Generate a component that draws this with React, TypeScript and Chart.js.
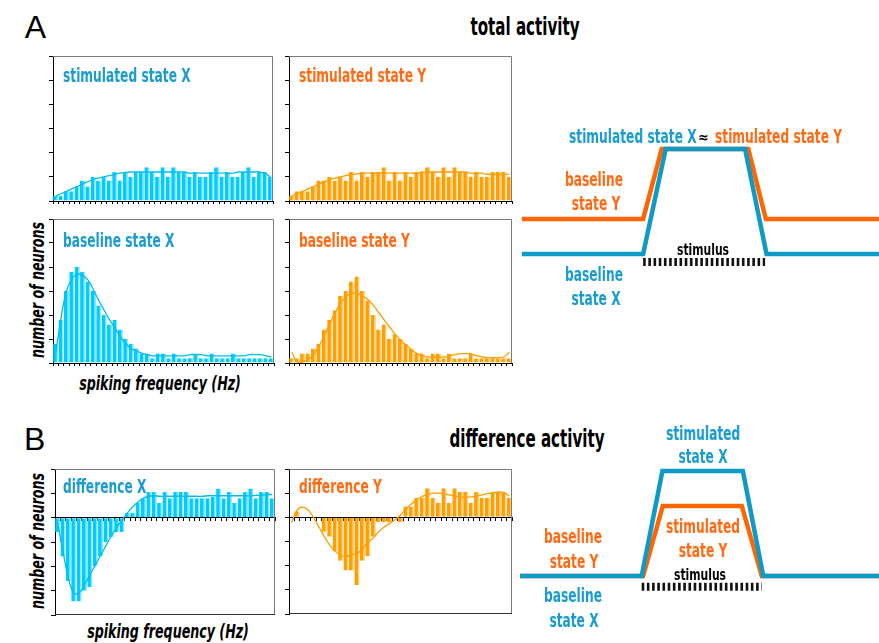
import React, { useEffect, useRef } from "react";
import { Chart, registerables } from "chart.js";

Chart.register(...registerables);

// ---------- data ----------
const bins = ["1","2","3","4","5","6","7","8","9","10","11","12","13","14","15","16","17","18","19","20","21","22","23","24","25","26","27","28","29","30","31","32","33","34","35","36","37","38","39","40","41"];

const stimXBars = [0.22,0.22,0.4,0.4,0.6,0.85,0.6,1.0,0.85,1.0, 0.85,1.2,0.85,1.2,1.0,1.2,1.2,1.4,1.2,1.0, 1.4,1.0,1.4,1.2,1.2,1.0,1.2,1.0,1.0,1.2, 1.4,1.0,1.2,1.0,1.0,1.2,1.4,1.0,1.2,1.2,1.0];
const stimXFit = [0.2,0.3,0.4,0.5,0.6,0.7,0.8,0.9,0.95,1.0, 1.05,1.1,1.15,1.18,1.2,1.2,1.2,1.2,1.2,1.2, 1.2,1.2,1.2,1.2,1.2,1.15,1.15,1.15,1.15,1.15, 1.15,1.15,1.15,1.15,1.2,1.2,1.2,1.2,1.2,1.15,1.0];

const stimYBars = [0.22,0.4,0.4,0.4,0.6,0.85,0.85,1.0,0.85,1.0, 0.85,1.2,0.85,1.2,1.0,1.2,1.2,1.4,0.85,1.2, 0.85,1.2,1.0,1.2,1.2,1.4,1.2,1.0,1.4,1.0, 1.4,1.2,1.2,1.0,1.2,1.0,1.0,1.2,1.2,1.2,1.0];
const stimYFit = [0.2,0.3,0.4,0.5,0.6,0.7,0.8,0.88,0.95,1.0, 1.05,1.1,1.12,1.15,1.15,1.15,1.15,1.15,1.15,1.15, 1.15,1.15,1.15,1.15,1.2,1.2,1.2,1.2,1.2,1.2, 1.2,1.2,1.2,1.15,1.15,1.15,1.1,1.1,1.1,1.1,1.1];

const baseXBars = [0.8,1.8,3.0,3.8,4.0,3.8,3.4,3.0,2.4,2.0, 1.6,1.8,1.4,1.0,0.8,0.6,0.4,0.4,0.2,0.4, 0.4,0.2,0.4,0.2,0.2,0.2,0.4,0.2,0.2,0.4, 0.2,0.2,0.2,0.4,0.2,0.2,0.2,0.2,0.2,0.2,0.2];
const baseXFit = [0.4,1.9,3.0,3.5,3.7,3.65,3.45,3.05,2.6,2.2, 1.8,1.45,1.1,0.8,0.6,0.5,0.4,0.35,0.3,0.3, 0.3,0.3,0.3,0.3,0.3,0.35,0.35,0.35,0.3,0.3, 0.3,0.3,0.3,0.3,0.3,0.3,0.35,0.35,0.35,0.3,0.25];

const baseYBars = [0.2,0.2,0.4,0.4,0.6,0.8,1.4,1.8,2.2,2.8, 3.0,3.4,3.6,3.0,2.6,2.0,1.4,1.6,1.0,1.2, 1.0,0.8,0.6,0.4,0.4,0.2,0.4,0.4,0.2,0.4, 0.2,0.2,0.2,0.4,0.2,0.2,0.2,0.2,0.2,0.2,0.2];
const baseYFit = [0.45,0.05,0.05,0.15,0.35,0.7,1.15,1.65,2.1,2.5, 2.75,2.9,2.9,2.8,2.65,2.4,2.1,1.8,1.5,1.2, 0.95,0.75,0.55,0.4,0.3,0.25,0.25,0.25,0.25,0.3, 0.35,0.38,0.4,0.38,0.3,0.25,0.22,0.22,0.22,0.25,0.45];

const diffXBars = [-0.6,-1.6,-2.6,-3.45,-3.45,-3.0,-2.85,-2.0,-1.6,-1.0, -0.8,-0.6,-0.6,0.2,0.2,0.6,0.8,1.05,1.05,0.6, 1.05,0.8,1.05,1.05,1.05,0.8,0.8,0.8,0.8,0.85, 1.2,0.8,1.05,0.6,0.8,1.05,1.2,0.8,1.05,1.05,0.8];
const diffXFit = [-0.25,-1.4,-2.5,-3.1,-3.1,-2.75,-2.35,-1.95,-1.55,-1.15, -0.75,-0.4,-0.1,0.2,0.45,0.65,0.8,0.88,0.9,0.88, 0.88,0.88,0.88,0.88,0.88,0.88,0.88,0.88,0.9,0.9, 0.9,0.9,0.9,0.9,0.9,0.9,0.9,0.92,0.92,0.95,0.95];

const diffYBars = [0,0.25,0,0,0,0,-0.6,-0.8,-1.4,-1.8, -2.2,-2.2,-2.8,-1.8,-1.6,-0.8,-0.2,-0.2,-0.2,0, -0.2,0.45,0.45,0.8,0.8,1.2,0.8,0.6,1.2,0.6, 1.2,1.05,1.05,0.6,1.05,0.8,0.8,1.05,1.05,1.05,0.8];
const diffYFit = [-0.2,0.3,0.42,0.3,0.0,-0.4,-0.8,-1.15,-1.4,-1.58, -1.62,-1.55,-1.5,-1.3,-1.05,-0.85,-0.6,-0.4,-0.25,-0.1, 0.1,0.35,0.55,0.75,0.87,0.95,1.0,1.0,0.97,0.93, 0.88,0.85,0.84,0.85,0.88,0.93,0.98,1.02,1.05,1.02,0.88];

// schematic time courses (x: time 0..100, y: activity level)
const schemATimeBlue = [1.9, 35.2, 41.4, 63.2, 69.1, 100];
const schemALevelBlue = [0, 0, 3, 3, 0, 0];
const schemATimeOrange = [1.9, 35.2, 40.3, 64.1, 68.9, 100];
const schemALevelOrange = [1, 1, 3, 3, 1, 1];
const schemATimeStim = [35.2, 68.7];
const schemALevelStim = [-0.23, -0.23];

const schemBTimeBlue = [1.4, 34.8, 40.5, 62.6, 68.2, 100];
const schemBLevelBlue = [0, 0, 3, 3, 0, 0];
const schemBTimeOrange = [1.4, 35.2, 40.6, 62.3, 67.8, 100];
const schemBLevelOrange = [0, 0, 2, 2, 0, 0];
const schemBTimeStim = [34.8, 67.8];
const schemBLevelStim = [-0.31, -0.31];

// ---------- styles ----------
const BAR_BLUE = "#00CCFF";
const EDGE_BLUE = "#8FE6FF";
const LINE_BLUE = "#00BDEE";
const BAR_ORANGE = "#FFA000";
const EDGE_ORANGE = "#FFD28A";
const LINE_ORANGE = "#FF9C00";
const TXT_BLUE = "#1A9CCF";
const TXT_ORANGE = "#FF6A13";
const SCH_BLUE = "#0E9AC8";
const SCH_ORANGE = "#FF6600";
const NARROW = '"DejaVu Sans Condensed", "DejaVu Sans", sans-serif';

type Box = { l: number; t: number; r: number; b: number };

function Hist(props: {
  box: Box; bars: number[]; fit: number[]; min: number; max: number;
  barColor: string; edgeColor: string; lineColor: string; zeroAxis?: boolean;
}) {
  const ref = useRef<HTMLCanvasElement>(null);
  const { box } = props;
  const W = box.r - box.l + 7;
  const H = box.b - box.t + 6;
  useEffect(() => {
    const zero = !!props.zeroAxis;
    const frame = {
      id: "frame",
      afterDraw(chart: any) {
        const { ctx, chartArea } = chart;
        const { left, right, top, bottom } = chartArea;
        ctx.save();
        ctx.lineWidth = 1;
        ctx.strokeStyle = "#7a7a7a";
        ctx.beginPath();
        ctx.moveTo(left, top + 0.5);
        ctx.lineTo(right - 0.5, top + 0.5);
        ctx.lineTo(right - 0.5, bottom);
        ctx.stroke();
        if (zero) {
          ctx.strokeStyle = "#333";
          ctx.beginPath();
          ctx.moveTo(left, bottom - 0.5);
          ctx.lineTo(right, bottom - 0.5);
          ctx.stroke();
        }
        ctx.restore();
      },
    };
    const chart = new Chart(ref.current!, {
      type: "bar",
      data: {
        labels: bins,
        datasets: [
          {
            type: "line",
            data: props.fit,
            borderColor: props.lineColor,
            borderWidth: 1.3,
            pointRadius: 0,
            tension: 0.4,
            fill: false,
            order: 0,
          } as any,
          {
            type: "bar",
            data: props.bars,
            backgroundColor: props.barColor,
            borderColor: props.edgeColor,
            borderWidth: { left: 0, right: 1.5, top: 0, bottom: 0 },
            borderSkipped: false,
            barPercentage: 0.95,
            categoryPercentage: 1,
            order: 1,
          } as any,
        ],
      },
      options: {
        animation: false,
        responsive: false,
        maintainAspectRatio: false,
        events: [],
        layout: { padding: { left: 1, top: 2, right: 2, bottom: zero ? 4 : 1 } },
        plugins: { legend: { display: false }, tooltip: { enabled: false }, title: { display: false } },
        scales: {
          x: {
            type: "category",
            offset: true,
            position: zero ? ({ y: 0 } as any) : "bottom",
            ticks: { display: false },
            grid: { display: true, drawOnChartArea: false, drawTicks: true, tickLength: 3, color: "#000", offset: true },
            border: { display: true, color: "#000", width: 1 },
          },
          y: {
            type: "linear",
            min: props.min,
            max: props.max,
            position: "left",
            ticks: { display: false, stepSize: 1 },
            grid: { display: true, drawOnChartArea: false, drawTicks: true, tickLength: 4, color: "#000" },
            border: { display: true, color: "#000", width: 1 },
          },
        },
      },
      plugins: [frame],
    });
    return () => chart.destroy();
  }, []);
  return (
    <canvas
      ref={ref}
      width={W}
      height={H}
      style={{ position: "absolute", left: box.l - 5, top: box.t - 2, width: W, height: H }}
    />
  );
}

function Schematic(props: {
  top: number; blueT: number[]; blueL: number[]; orangeT: number[]; orangeL: number[]; stimT: number[]; stimL: number[];
}) {
  const ref = useRef<HTMLCanvasElement>(null);
  useEffect(() => {
    const pts = (t: number[], l: number[]) => t.map((x, i) => ({ x, y: l[i] }));
    const chart = new Chart(ref.current!, {
      type: "line",
      data: {
        datasets: [
          { data: pts(props.blueT, props.blueL), borderColor: SCH_BLUE, borderWidth: 4.5, pointRadius: 0, tension: 0, clip: false } as any,
          { data: pts(props.orangeT, props.orangeL), borderColor: SCH_ORANGE, borderWidth: 4.5, pointRadius: 0, tension: 0, clip: false } as any,
          { data: pts(props.stimT, props.stimL), borderColor: "#111", borderWidth: 8, borderDash: [2.6, 2.6], borderCapStyle: "butt", pointRadius: 0, clip: false } as any,
        ],
      },
      options: {
        animation: false,
        responsive: false,
        maintainAspectRatio: false,
        events: [],
        layout: { padding: 0 },
        plugins: { legend: { display: false }, tooltip: { enabled: false } },
        scales: {
          x: { type: "linear", min: 0, max: 100, display: false },
          y: { type: "linear", min: -0.6, max: 3.4, display: false },
        },
      },
    });
    return () => chart.destroy();
  }, []);
  return (
    <canvas ref={ref} width={364} height={140}
      style={{ position: "absolute", left: 515, top: props.top, width: 364, height: 140 }} />
  );
}

function T(props: {
  text: string; x: number; y: number; color?: string; size?: number; align?: "center" | "left";
  italic?: boolean; rotate?: boolean; family?: string; weight?: string | number; sx?: number;
}) {
  const align = props.align || "center";
  const sx = props.sx ?? 1;
  let transform: string;
  let origin = "50% 50%";
  if (props.rotate) transform = `translate(-50%, -50%) rotate(-90deg) scaleX(${sx})`;
  else if (align === "center") transform = `translate(-50%, -50%) scaleX(${sx})`;
  else {
    transform = `translate(0, -50%) scaleX(${sx})`;
    origin = "0% 50%";
  }
  return (
    <div
      style={{
        position: "absolute",
        left: props.x,
        top: props.y,
        transform,
        transformOrigin: origin,
        whiteSpace: "nowrap",
        lineHeight: 1,
        fontFamily: props.family || NARROW,
        fontWeight: props.weight ?? "bold",
        fontStyle: props.italic ? "italic" : "normal",
        fontSize: props.size || 20,
        color: props.color || "#000",
      }}
    >
      {props.text}
    </div>
  );
}

const LS = 0.68; // horizontal squeeze for coloured labels
const AX = 0.74; // axis titles
const TS = 0.70; // headings

export default function App() {
  return (
    <div style={{ position: "fixed", left: 0, top: 0, width: 879, height: 643, background: "#fff", overflow: "hidden" }}>
      <Hist box={{ l: 53, t: 56, r: 273, b: 201 }} bars={stimXBars} fit={stimXFit} min={0} max={6}
        barColor={BAR_BLUE} edgeColor={EDGE_BLUE} lineColor={LINE_BLUE} />
      <Hist box={{ l: 289, t: 56, r: 512, b: 201 }} bars={stimYBars} fit={stimYFit} min={0} max={6}
        barColor={BAR_ORANGE} edgeColor={EDGE_ORANGE} lineColor={LINE_ORANGE} />
      <Hist box={{ l: 53, t: 219, r: 274, b: 363 }} bars={baseXBars} fit={baseXFit} min={0} max={6}
        barColor={BAR_BLUE} edgeColor={EDGE_BLUE} lineColor={LINE_BLUE} />
      <Hist box={{ l: 289, t: 219, r: 512, b: 363 }} bars={baseYBars} fit={baseYFit} min={0} max={6}
        barColor={BAR_ORANGE} edgeColor={EDGE_ORANGE} lineColor={LINE_ORANGE} />
      <Hist box={{ l: 55, t: 469, r: 275, b: 615 }} bars={diffXBars} fit={diffXFit} min={-4} max={2} zeroAxis
        barColor={BAR_BLUE} edgeColor={EDGE_BLUE} lineColor={LINE_BLUE} />
      <Hist box={{ l: 289, t: 469, r: 512, b: 614 }} bars={diffYBars} fit={diffYFit} min={-4} max={2} zeroAxis
        barColor={BAR_ORANGE} edgeColor={EDGE_ORANGE} lineColor={LINE_ORANGE} />

      <Schematic top={135} blueT={schemATimeBlue} blueL={schemALevelBlue} orangeT={schemATimeOrange}
        orangeL={schemALevelOrange} stimT={schemATimeStim} stimL={schemALevelStim} />
      <Schematic top={457} blueT={schemBTimeBlue} blueL={schemBLevelBlue} orangeT={schemBTimeOrange}
        orangeL={schemBLevelOrange} stimT={schemBTimeStim} stimL={schemBLevelStim} />

      {/* headings */}
      <T text="A" x={35.5} y={27} size={32} weight="normal" family='"Liberation Sans", Arial, sans-serif' />
      <T text="B" x={34.7} y={438.5} size={32} weight="normal" family='"Liberation Sans", Arial, sans-serif' />
      <T text="total activity" x={524.5} y={26.7} size={24} sx={TS} />
      <T text="difference activity" x={526.5} y={438.7} size={24} sx={TS} />

      {/* panel labels */}
      <T text="stimulated state X" x={63} y={75.1} align="left" color={TXT_BLUE} sx={LS} />
      <T text="stimulated state Y" x={299} y={74.8} align="left" color={TXT_ORANGE} sx={LS} />
      <T text="baseline state X" x={63} y={239.8} align="left" color={TXT_BLUE} sx={LS} />
      <T text="baseline state Y" x={299} y={239.8} align="left" color={TXT_ORANGE} sx={LS} />
      <T text="difference X" x={63} y={486.4} align="left" color={TXT_BLUE} sx={LS} />
      <T text="difference Y" x={299} y={486.3} align="left" color={TXT_ORANGE} sx={LS} />

      {/* axis titles */}
      <T text="number of neurons" x={37} y={290} rotate italic size={19} sx={AX} />
      <T text="number of neurons" x={37} y={540.5} rotate italic size={19} sx={AX} />
      <T text="spiking frequency (Hz)" x={160} y={383} italic size={19} sx={AX} />
      <T text="spiking frequency (Hz)" x={168} y={631} italic size={19} sx={AX} />

      {/* schematic A labels */}
      <T text="stimulated state X" x={569} y={136.1} align="left" color={TXT_BLUE} sx={LS} />
      <T text="≈" x={703.5} y={137} size={14} />
      <T text="stimulated state Y" x={715} y={136.1} align="left" color={TXT_ORANGE} sx={LS} />
      <T text="baseline" x={593.7} y={179.1} color={TXT_ORANGE} sx={LS} />
      <T text="state Y" x={595.5} y={203.1} color={TXT_ORANGE} sx={LS} />
      <T text="stimulus" x={703} y={249.5} size={16} sx={0.75} />
      <T text="baseline" x={593.7} y={273.8} color={TXT_BLUE} sx={LS} />
      <T text="state X" x={595.5} y={298.1} color={TXT_BLUE} sx={LS} />

      {/* schematic B labels */}
      <T text="stimulated" x={703.3} y={433.1} color={TXT_BLUE} sx={LS} />
      <T text="state X" x={703.3} y={456.1} color={TXT_BLUE} sx={LS} />
      <T text="stimulated" x={703.3} y={526.1} color={TXT_ORANGE} sx={LS} />
      <T text="state Y" x={702.5} y={549.8} color={TXT_ORANGE} sx={LS} />
      <T text="baseline" x={572.7} y={536.1} color={TXT_ORANGE} sx={LS} />
      <T text="state Y" x={574} y={561.1} color={TXT_ORANGE} sx={LS} />
      <T text="stimulus" x={700} y={574.5} size={16} sx={0.75} />
      <T text="baseline" x={572.7} y={594.8} color={TXT_BLUE} sx={LS} />
      <T text="state X" x={574} y={619.8} color={TXT_BLUE} sx={LS} />
    </div>
  );
}
